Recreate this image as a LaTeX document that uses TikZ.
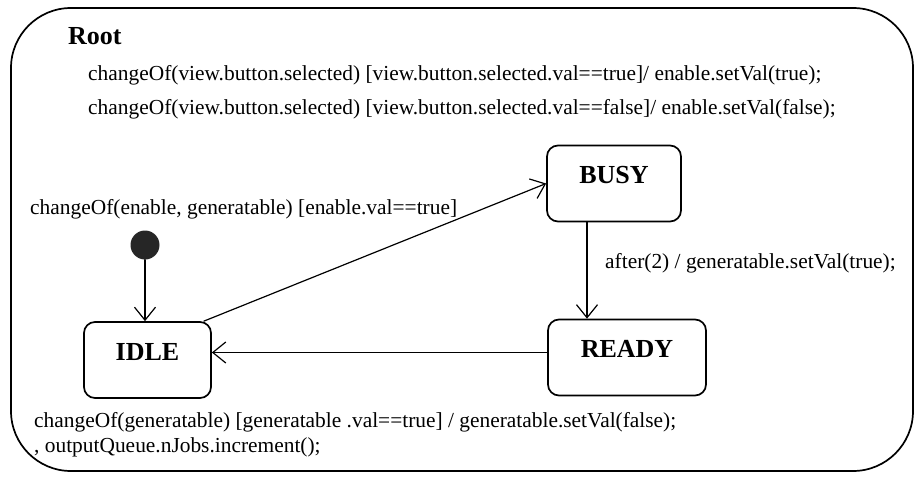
\documentclass[tikz,border=0pt]{standalone}
\usepackage{fontspec}
\setmainfont{Liberation Serif}
\usetikzlibrary{arrows.meta}

\begin{document}
\begin{tikzpicture}[x=1pt, y=-1pt, font=\fontsize{21.4}{24}\selectfont, line join=round, line cap=round, >={Straight Barb[length=13pt,width=21pt]},
	state/.style={draw, line width=1.7pt, rounded corners=11pt, minimum height=76pt, inner sep=0pt, font=\fontsize{26}{30}\selectfont\bfseries, text height=17pt, text depth=17pt},
	trans/.style={->, line width=1.2pt},
	txt/.style={anchor=base west, inner sep=0pt}]
			\useasboundingbox (0,0) rectangle (922,479);
			\draw[line width=1.7pt, rounded corners=60pt] (11,8) rectangle (913,471);
			\node[txt, font=\fontsize{26}{30}\selectfont\bfseries] (root) at (68,45) {Root};
			\node[txt] (ontrue) at (88,80) {changeOf(view.button.selected) [view.button.selected.val==true]/ enable.setVal(true);};
			\node[txt] (onfalse) at (88,114) {changeOf(view.button.selected) [view.button.selected.val==false]/ enable.setVal(false);};
			% states
			\node[circle, fill=black!85, minimum size=29pt, inner sep=0pt] (init) at (145,245) {};
			\node[state, minimum width=127pt] (idle) at (147.5,360) {IDLE};
			\node[state, minimum width=134pt] (busy) at (614,183.5) {BUSY};
			\node[state, minimum width=158pt] (ready) at (627,357.5) {READY};
			% transitions
			\draw[trans] (init) -- (init |- idle.north);
			\draw[trans] ([xshift=-8pt]idle.north east) -- (busy.west);
			\draw[trans] ([xshift=-27pt]busy.south) -- ([xshift=-27pt]busy.south |- ready.north);
			\draw[trans] ([yshift=5pt]ready.west) -- ([yshift=5pt]ready.west -| idle.east);
			\node[txt] (go) at (30,214) {changeOf(enable, generatable) [enable.val==true]};
			\node[txt] (after) at (605,268) {after(2) / generatable.setVal(true);};
			\node[txt] (back) at (34,427) {changeOf(generatable) [generatable .val==true] / generatable.setVal(false);};
			\node[txt] (inc) at (34,452) {, outputQueue.nJobs.increment();};
		\end{tikzpicture}
\end{document}
